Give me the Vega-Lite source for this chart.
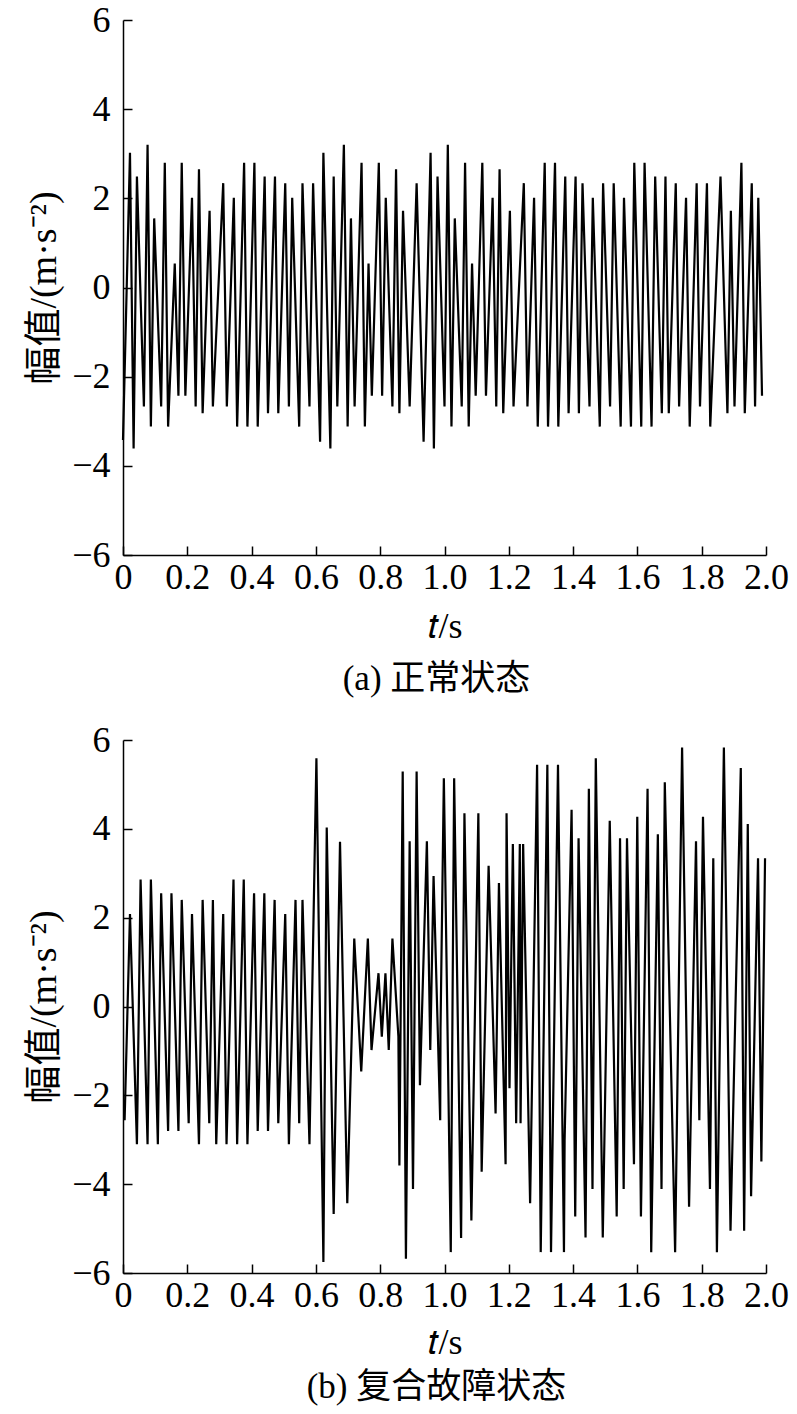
{
  "$schema": "https://vega.github.io/schema/vega-lite/v6.json",
  "autosize": {"type": "none"},
  "padding": {"left": 123, "top": 20, "right": 674, "bottom": 1394},
  "background": "white",
  "datasets": {
    "a": [
      {"t":0.0,"v":-3.42},{"t":0.0217,"v":3.02},{"t":0.033,"v":-3.61},{"t":0.0433,"v":2.49},{"t":0.065,"v":-2.67},{"t":0.0764,"v":3.2},{"t":0.0867,"v":-3.12},{"t":0.097,"v":1.55},{"t":0.1187,"v":-2.67},{"t":0.13,"v":2.8},{"t":0.1403,"v":-3.12},{"t":0.161,"v":0.54},{"t":0.1724,"v":-2.43},{"t":0.1827,"v":2.8},{"t":0.194,"v":-2.43},{"t":0.2146,"v":2.01},{"t":0.226,"v":-2.67},{"t":0.2363,"v":2.65},{"t":0.2477,"v":-2.82},{"t":0.2693,"v":1.72},{"t":0.2796,"v":-2.67},{"t":0.3117,"v":2.34},{"t":0.323,"v":-2.67},{"t":0.3447,"v":2.01},{"t":0.355,"v":-3.12},{"t":0.3767,"v":2.8},{"t":0.387,"v":-3.12},{"t":0.4087,"v":2.8},{"t":0.419,"v":-3.12},{"t":0.4406,"v":2.49},{"t":0.451,"v":-2.82},{"t":0.4727,"v":2.49},{"t":0.483,"v":-2.82},{"t":0.5046,"v":2.34},{"t":0.516,"v":-2.67},{"t":0.5263,"v":2.01},{"t":0.548,"v":-3.12},{"t":0.5583,"v":2.34},{"t":0.58,"v":-2.67},{"t":0.5913,"v":2.34},{"t":0.613,"v":-3.46},{"t":0.6233,"v":3.02},{"t":0.645,"v":-3.61},{"t":0.6553,"v":2.49},{"t":0.6666,"v":-2.67},{"t":0.687,"v":3.2},{"t":0.6987,"v":-3.12},{"t":0.709,"v":1.55},{"t":0.7204,"v":-2.67},{"t":0.742,"v":2.8},{"t":0.7523,"v":-3.12},{"t":0.7637,"v":0.54},{"t":0.774,"v":-2.43},{"t":0.7957,"v":2.8},{"t":0.806,"v":-2.43},{"t":0.8173,"v":2.01},{"t":0.838,"v":-2.67},{"t":0.8493,"v":2.65},{"t":0.8597,"v":-2.82},{"t":0.871,"v":1.72},{"t":0.8916,"v":-2.67},{"t":0.9133,"v":2.34},{"t":0.935,"v":-3.46},{"t":0.9567,"v":3.02},{"t":0.967,"v":-3.61},{"t":0.9783,"v":2.49},{"t":1.0,"v":-2.67},{"t":1.0103,"v":3.2},{"t":1.0217,"v":-3.12},{"t":1.032,"v":1.55},{"t":1.0536,"v":-2.67},{"t":1.064,"v":2.8},{"t":1.0753,"v":-3.12},{"t":1.0857,"v":0.54},{"t":1.097,"v":-2.43},{"t":1.1176,"v":2.8},{"t":1.129,"v":-2.43},{"t":1.1496,"v":2.01},{"t":1.161,"v":-2.67},{"t":1.1713,"v":2.65},{"t":1.1827,"v":-2.82},{"t":1.2034,"v":1.72},{"t":1.2147,"v":-2.67},{"t":1.2467,"v":2.34},{"t":1.258,"v":-2.67},{"t":1.2786,"v":2.01},{"t":1.29,"v":-3.12},{"t":1.3117,"v":2.8},{"t":1.322,"v":-3.12},{"t":1.3437,"v":2.8},{"t":1.354,"v":-3.12},{"t":1.3756,"v":2.49},{"t":1.386,"v":-2.82},{"t":1.4077,"v":2.49},{"t":1.418,"v":-2.82},{"t":1.4293,"v":2.34},{"t":1.451,"v":-2.67},{"t":1.4613,"v":2.01},{"t":1.483,"v":-3.12},{"t":1.4933,"v":2.34},{"t":1.515,"v":-2.67},{"t":1.5263,"v":2.34},{"t":1.548,"v":-3.12},{"t":1.5583,"v":2.01},{"t":1.58,"v":-3.12},{"t":1.5903,"v":2.8},{"t":1.612,"v":-3.12},{"t":1.6223,"v":2.8},{"t":1.644,"v":-3.12},{"t":1.6553,"v":2.49},{"t":1.676,"v":-2.82},{"t":1.6873,"v":2.49},{"t":1.6976,"v":-2.82},{"t":1.7193,"v":2.34},{"t":1.7297,"v":-2.67},{"t":1.7513,"v":2.01},{"t":1.7627,"v":-3.12},{"t":1.7843,"v":2.34},{"t":1.7947,"v":-2.67},{"t":1.8163,"v":2.34},{"t":1.8266,"v":-3.12},{"t":1.8585,"v":2.49},{"t":1.88,"v":-2.82},{"t":1.8907,"v":1.72},{"t":1.902,"v":-2.67},{"t":1.9235,"v":2.8},{"t":1.934,"v":-2.82},{"t":1.9557,"v":2.34},{"t":1.966,"v":-2.67},{"t":1.976,"v":2.01},{"t":1.9876,"v":-2.43}
    ],
    "b": [
      {"t":0.005,"v":-2.56},{"t":0.0217,"v":2.08},{"t":0.0433,"v":-3.1},{"t":0.0547,"v":2.86},{"t":0.0764,"v":-3.1},{"t":0.0867,"v":2.86},{"t":0.1084,"v":-3.1},{"t":0.1187,"v":2.55},{"t":0.1403,"v":-2.8},{"t":0.1507,"v":2.55},{"t":0.1724,"v":-2.8},{"t":0.1827,"v":2.4},{"t":0.2043,"v":-2.63},{"t":0.2146,"v":2.08},{"t":0.2363,"v":-3.1},{"t":0.2477,"v":2.4},{"t":0.2683,"v":-2.63},{"t":0.2796,"v":2.4},{"t":0.29,"v":-3.1},{"t":0.3117,"v":2.08},{"t":0.322,"v":-3.1},{"t":0.3437,"v":2.86},{"t":0.355,"v":-3.1},{"t":0.3756,"v":2.86},{"t":0.387,"v":-3.1},{"t":0.4077,"v":2.55},{"t":0.419,"v":-2.8},{"t":0.4396,"v":2.55},{"t":0.451,"v":-2.8},{"t":0.4716,"v":2.4},{"t":0.483,"v":-2.63},{"t":0.5046,"v":2.08},{"t":0.516,"v":-3.1},{"t":0.5366,"v":2.4},{"t":0.548,"v":-2.63},{"t":0.5583,"v":2.4},{"t":0.58,"v":-3.1},{"t":0.6016,"v":5.59},{"t":0.6233,"v":-5.75},{"t":0.6337,"v":4.03},{"t":0.6553,"v":-4.67},{"t":0.675,"v":3.71},{"t":0.6976,"v":-4.43},{"t":0.7193,"v":1.53},{"t":0.741,"v":-1.46},{"t":0.7616,"v":1.53},{"t":0.773,"v":-0.98},{"t":0.7947,"v":0.75},{"t":0.805,"v":-0.68},{"t":0.8163,"v":0.75},{"t":0.8266,"v":-0.98},{"t":0.838,"v":1.53},{"t":0.8566,"v":-0.68},{"t":0.8597,"v":-3.58},{"t":0.87,"v":5.29},{"t":0.88,"v":-5.68},{"t":0.8916,"v":3.72},{"t":0.902,"v":-4.11},{"t":0.9133,"v":5.29},{"t":0.9236,"v":-1.77},{"t":0.9452,"v":3.72},{"t":0.9557,"v":-0.98},{"t":0.966,"v":2.94},{"t":0.9866,"v":-2.56},{"t":0.9876,"v":-0.51},{"t":0.998,"v":5.14},{"t":1.0195,"v":-5.53},{"t":1.03,"v":5.14},{"t":1.0516,"v":-5.21},{"t":1.062,"v":4.35},{"t":1.0836,"v":-4.82},{"t":1.1053,"v":4.35},{"t":1.1156,"v":-3.72},{"t":1.1372,"v":3.17},{"t":1.1589,"v":-2.41},{"t":1.1693,"v":2.78},{"t":1.19,"v":-3.55},{"t":1.193,"v":4.35},{"t":1.2022,"v":-1.84},{"t":1.2126,"v":3.66},{"t":1.2229,"v":-2.63},{"t":1.2343,"v":3.66},{"t":1.2366,"v":-2.63},{"t":1.2446,"v":3.66},{"t":1.2663,"v":-4.43},{"t":1.288,"v":5.44},{"t":1.2993,"v":-5.53},{"t":1.3199,"v":5.44},{"t":1.3313,"v":-5.53},{"t":1.353,"v":5.44},{"t":1.3716,"v":-5.53},{"t":1.3736,"v":-3.02},{"t":1.3953,"v":4.43},{"t":1.4066,"v":-4.73},{"t":1.417,"v":3.79},{"t":1.4387,"v":-5.2},{"t":1.449,"v":4.9},{"t":1.4603,"v":-4.11},{"t":1.4706,"v":5.59},{"t":1.4923,"v":-5.2},{"t":1.514,"v":4.18},{"t":1.5356,"v":-4.73},{"t":1.546,"v":3.79},{"t":1.5573,"v":-4.11},{"t":1.5676,"v":3.79},{"t":1.5893,"v":-3.55},{"t":1.5996,"v":4.27},{"t":1.611,"v":-4.73},{"t":1.6316,"v":4.9},{"t":1.643,"v":-5.53},{"t":1.6636,"v":3.88},{"t":1.675,"v":-4.11},{"t":1.6852,"v":5.05},{"t":1.7173,"v":-5.53},{"t":1.739,"v":5.83},{"t":1.7607,"v":-4.51},{"t":1.7823,"v":3.72},{"t":1.7926,"v":-2.56},{"t":1.804,"v":4.27},{"t":1.8257,"v":-4.11},{"t":1.836,"v":3.34},{"t":1.8473,"v":-5.53},{"t":1.869,"v":5.83},{"t":1.8896,"v":-5.05},{"t":1.9216,"v":5.37},{"t":1.932,"v":-5.05},{"t":1.9433,"v":4.11},{"t":1.9536,"v":-4.27},{"t":1.9752,"v":3.34},{"t":1.9856,"v":-3.49},{"t":1.997,"v":3.34}
    ]
  },
  "config": {
    "view": {"stroke": null},
    "axis": {
      "grid": false,
      "domainColor": "black",
      "domainWidth": 1.5,
      "tickColor": "black",
      "tickWidth": 1.5,
      "tickSize": -9,
      "labelFont": "Liberation Serif, Times New Roman, serif",
      "labelFontSize": 36,
      "labelColor": "black",
      "titleFont": "Liberation Serif, Times New Roman, Noto Sans CJK SC, serif",
      "titleFontWeight": "normal",
      "titleColor": "black"
    },
    "title": {"font": "Liberation Serif, Times New Roman, Noto Sans CJK SC, serif", "fontWeight": "normal", "fontSize": 35, "color": "black"}
  },
  "bounds": "flush",
  "spacing": 185,
  "vconcat": [
    {
      "width": 643,
      "height": 535,
      "data": {"name": "a"},
      "title": {"text": "(a) 正常状态", "orient": "bottom", "anchor": "middle", "frame": "group", "offset": 18, "dx": -8},
      "mark": {"type": "line", "color": "black", "strokeWidth": 2.2},
      "encoding": {
        "x": {"field": "t", "type": "quantitative", "scale": {"domain": [0, 2]},
              "axis": {"values": [0,0.2,0.4,0.6,0.8,1.0,1.2,1.4,1.6,1.8,2.0], "labelExpr": "datum.value == 0 ? '0' : format(datum.value, '.1f')", "labelPadding": 14, "title": "𝑡/s", "titleFontSize": 36, "titlePadding": 14, "labelFlush": false}},
        "y": {"field": "v", "type": "quantitative", "scale": {"domain": [-6, 6]},
              "axis": {"values": [-6,-4,-2,0,2,4,6], "labelPadding": 22, "title": "幅值/(m·s⁻²)", "titleFontSize": 38, "titlePadding": 8}}
      }
    },
    {
      "width": 643,
      "height": 533,
      "data": {"name": "b"},
      "title": {"text": "(b) 复合故障状态", "orient": "bottom", "anchor": "middle", "frame": "group", "offset": 10, "dx": -8},
      "mark": {"type": "line", "color": "black", "strokeWidth": 2.2},
      "encoding": {
        "x": {"field": "t", "type": "quantitative", "scale": {"domain": [0, 2]},
              "axis": {"values": [0,0.2,0.4,0.6,0.8,1.0,1.2,1.4,1.6,1.8,2.0], "labelExpr": "datum.value == 0 ? '0' : format(datum.value, '.1f')", "labelPadding": 14, "title": "𝑡/s", "titleFontSize": 36, "titlePadding": 12, "labelFlush": false}},
        "y": {"field": "v", "type": "quantitative", "scale": {"domain": [-6, 6]},
              "axis": {"values": [-6,-4,-2,0,2,4,6], "labelPadding": 22, "title": "幅值/(m·s⁻²)", "titleFontSize": 38, "titlePadding": 8}}
      }
    }
  ]
}
